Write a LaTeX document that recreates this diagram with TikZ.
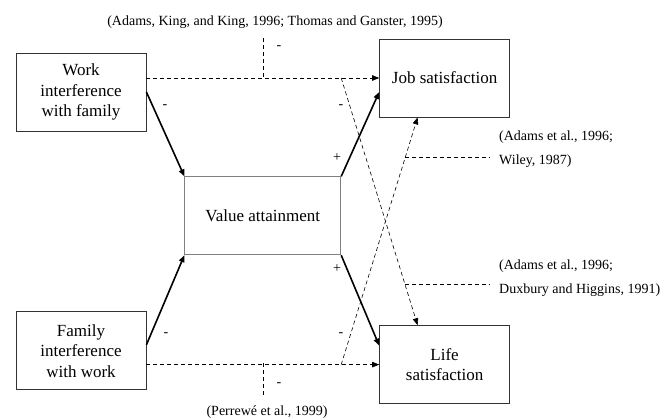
\documentclass[tikz,border=0pt]{standalone}
\usepackage{fontspec}
\setmainfont{Liberation Serif}
\usetikzlibrary{arrows.meta, positioning, calc}

\begin{document}
\begin{tikzpicture}[
  x=1bp, y=1bp,
  >={Triangle[length=7bp,width=5.5bp]},
  box/.style={draw=black!80, line width=0.8bp, minimum width=130bp, minimum height=78bp, align=center, inner sep=0pt, font=\fontsize{17bp}{20.5bp}\selectfont},
  effect/.style={->, line width=1.6bp},
  pathdash/.style={->, line width=0.6bp, dash pattern=on 4bp off 3bp},
  citeline/.style={line width=0.6bp, dash pattern=on 4bp off 3bp},
  cite/.style={font=\fontsize{14bp}{24.5bp}\selectfont, inner sep=0pt},
  sign/.style={font=\fontsize{14bp}{14bp}\selectfont, inner sep=0pt}
]
\useasboundingbox (0,0) rectangle (665,419);

% PREDICTORS
\node[box] (work) at (81,327) {Work\\interference\\with family};
\node[box, below=180bp of work] (family) {Family\\interference\\with work};

% MEDIATOR
\node[box, draw=black!50, minimum width=156bp, below right=45bp and 38bp of work] (value) {Value attainment};

% OUTCOMES
\node[box, above right=59bp and 38bp of value] (job) {Job satisfaction};
\node[box, below right=70bp and 38bp of value] (life) {Life\\satisfaction};

\draw[effect] (work.east) -- (value.north west);
\draw[effect] ([yshift=6bp]family.east) -- (value.south west);
\draw[effect] (value.north east) -- ([yshift=-14bp]job.west);
\draw[effect] (value.south east) -- ([yshift=19bp]life.west);

% DIRECT PATHS
\coordinate (wjTurn) at (value.east |- job.west);
\coordinate (flTurn) at (value.east |- life.west);
\draw[pathdash] (work.east |- job.west) -- (job.west);
\draw[pathdash] (family.east |- life.west) -- (life.west);
\draw[pathdash] (wjTurn) -- ([xshift=-27bp]life.north);
\draw[pathdash] (flTurn) -- ([xshift=-27bp]job.south);

% CITATIONS
\node[cite] (citeTop) at (275,397) {(Adams, King, and King, 1996; Thomas and Ganster, 1995)};
\coordinate (topTick) at (263,341);
\coordinate (topEnd) at (263,381);
\draw[citeline] (topEnd) -- (topTick);

\node[cite, anchor=west, align=left] (citeJob) at (499,270) {(Adams et al., 1996;\\Wiley, 1987)};
\coordinate (jobTap) at ($(flTurn)!0.837!([xshift=-27bp]job.south)$);
\draw[citeline] (jobTap) -- ($(citeJob.west |- jobTap)+(-9,0)$);

\node[cite, anchor=west, align=left] (citeLife) at (499,141) {(Adams et al., 1996;\\Duxbury and Higgins, 1991)};
\coordinate (lifeTap) at ($(wjTurn)!0.833!([xshift=-27bp]life.north)$);
\draw[citeline] (lifeTap) -- ($(citeLife.west |- lifeTap)+(-9,0)$);

\node[cite] (citeBottom) at (267,7) {(Perrewé et al., 1999)};
\coordinate (bottomTick) at (263,56);
\coordinate (bottomEnd) at (263,21);
\draw[citeline] (bottomTick) -- (bottomEnd);

% SIGNS
\node[sign] (signTop) at (279,371) {-};
\node[sign] (signWV) at (165,312) {-};
\node[sign] (signWL) at (341,312) {-};
\node[sign] (signVJ) at (337,261) {+};
\node[sign] (signVL) at (337,150) {+};
\node[sign] (signFV) at (166,84) {-};
\node[sign] (signFJ) at (341,84) {-};
\node[sign] (signBottom) at (279,34) {-};

\end{tikzpicture}
\end{document}
